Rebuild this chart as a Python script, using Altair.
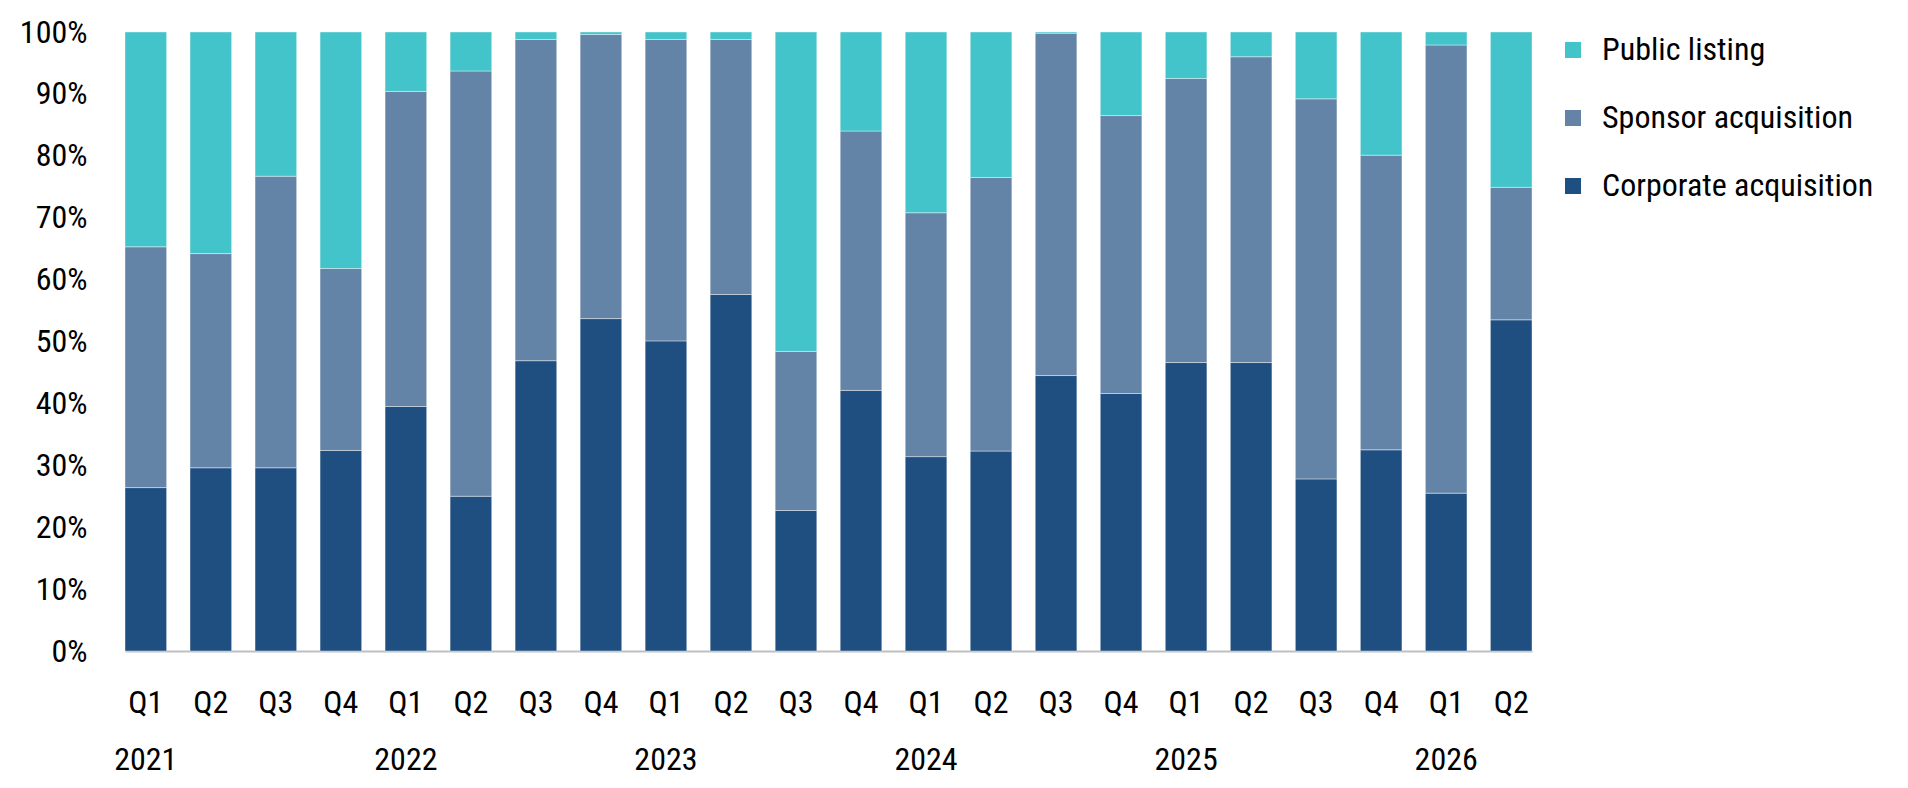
import altair as alt
import pandas as pd

# Quarter labels and year labels
years = ["2021"] * 4 + ["2022"] * 4 + ["2023"] * 4 + ["2024"] * 4 + ["2025"] * 4 + ["2026"] * 2
quarters = ["Q1", "Q2", "Q3", "Q4"] * 5 + ["Q1", "Q2"]

# Shares (%)
corporate = [26.4, 29.6, 29.6, 32.4, 39.5, 25.0, 46.9, 53.7, 50.1, 57.6, 22.7,
             42.1, 31.4, 32.3, 44.5, 41.6, 46.6, 46.6, 27.8, 32.5, 25.5, 53.5]
sponsor = [38.9, 34.6, 47.1, 29.4, 50.9, 68.7, 51.9, 45.9, 48.7, 41.2, 25.7,
           41.9, 39.4, 44.2, 55.3, 44.9, 45.9, 49.4, 61.4, 47.6, 72.4, 21.4]
public = [34.7, 35.8, 23.3, 38.2, 9.6, 6.3, 1.2, 0.4, 1.2, 1.2, 51.6,
          16.0, 29.2, 23.5, 0.2, 13.5, 7.5, 4.0, 10.8, 19.9, 2.1, 25.1]

series = ["Public listing", "Sponsor acquisition", "Corporate acquisition"]
colors = ["#42C4CA", "#6384A7", "#1F4F80"]

FONT = "Roboto Condensed, Roboto, sans-serif"
FS = 32

rows = []
for i, (y, q) in enumerate(zip(years, quarters)):
    period = f"{y} {q}"
    for name, vals, order in [("Corporate acquisition", corporate, 0),
                              ("Sponsor acquisition", sponsor, 1),
                              ("Public listing", public, 2)]:
        rows.append({"period": period, "year": y, "quarter": q,
                     "type": name, "share": vals[i], "order": order})
df = pd.DataFrame(rows)
periods = [f"{y} {q}" for y, q in zip(years, quarters)]

x_enc = alt.X(
    "period:N",
    sort=periods,
    scale=alt.Scale(paddingInner=0.36, paddingOuter=0),
    axis=alt.Axis(
        title=None,
        labelExpr="split(datum.value, ' ')[1]",
        labelAngle=0,
        labelFont=FONT,
        labelFontSize=FS,
        labelColor="#000000",
        labelBaseline="middle",
        labelPadding=51,
        ticks=False,
        tickSize=0,
        domainColor="#BFBFBF",
        domainWidth=2,
        grid=False,
    ),
)

bars = alt.Chart(df).mark_bar(stroke="#FFFFFF", strokeWidth=0.8, strokeOpacity=0.5).encode(
    x=x_enc,
    y=alt.Y(
        "share:Q",
        stack="normalize",
        scale=alt.Scale(domain=[0, 1], nice=False),
        axis=alt.Axis(
            title=None,
            values=[i / 10 for i in range(11)],
            format=".0%",
            labelFont=FONT,
            labelFontSize=FS,
            labelColor="#000000",
            labelPadding=38,
            ticks=False,
            domain=False,
            grid=False,
        ),
    ),
    color=alt.Color(
        "type:N",
        scale=alt.Scale(domain=series, range=colors),
        legend=alt.Legend(
            title=None,
            orient="none",
            legendX=1432,
            legendY=2,
            symbolType="square",
            symbolSize=256,
            symbolStrokeWidth=0,
            labelFont=FONT,
            labelFontSize=FS,
            labelColor="#000000",
            labelOffset=13,
            rowPadding=36,
            labelLimit=400,
        ),
    ),
    order=alt.Order("order:Q", sort="ascending"),
)

year_df = df[(df["quarter"] == "Q1") & (df["order"] == 0)]
year_text = alt.Chart(year_df).mark_text(
    font=FONT, fontSize=FS, color="#000000", align="center", baseline="middle"
).encode(
    x=alt.X("period:N", sort=periods),
    y=alt.value(728),
    text="year:N",
)

chart = alt.layer(bars, year_text).properties(
    width=1407,
    height=619,
    autosize=alt.AutoSizeParams(type="none"),
    padding={"left": 117, "top": 24, "right": 360, "bottom": 136},
).configure_view(stroke=None)

chart.save("out.html", embed_options={"renderer": "svg", "actions": False})
